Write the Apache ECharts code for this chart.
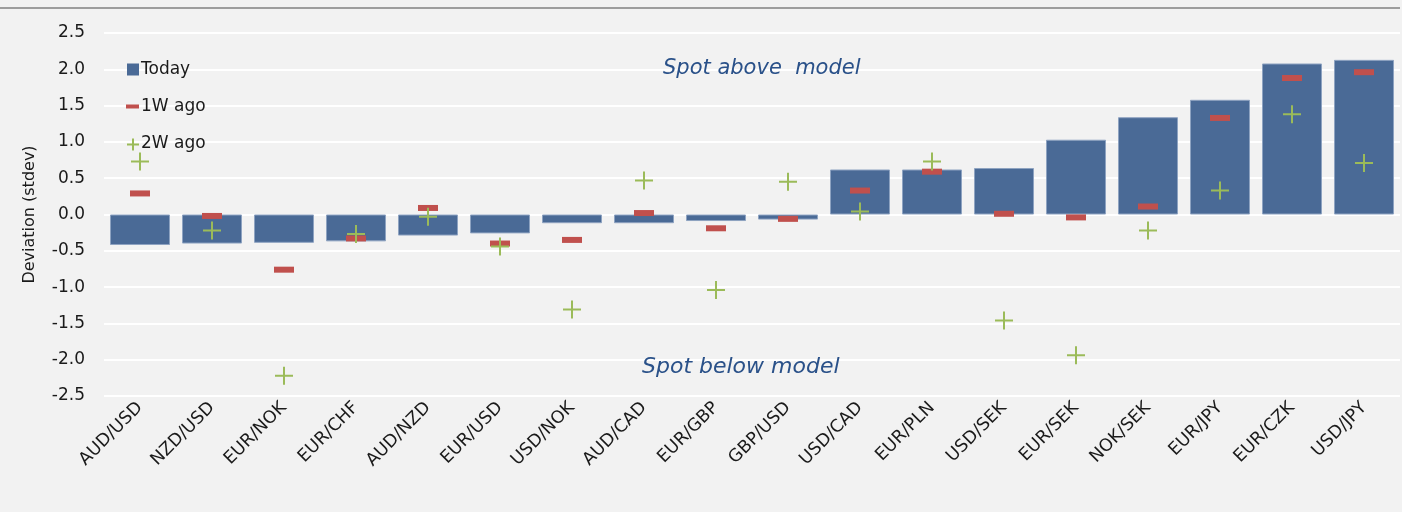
<!DOCTYPE html>
<html>
<head>
<meta charset="utf-8">
<script src="https://cdn.jsdelivr.net/npm/echarts@6/dist/echarts.min.js"></script>
<style>
  html, body { margin: 0; padding: 0; background: #f2f2f2; }
  #chart { width: 1402px; height: 512px; }
</style>
</head>
<body>
<div id="chart"></div>
<script>
// currency pairs, sorted by today's deviation
const pairs = ['AUD/USD', 'NZD/USD', 'EUR/NOK', 'EUR/CHF', 'AUD/NZD', 'EUR/USD', 'USD/NOK', 'AUD/CAD', 'EUR/GBP',
  'GBP/USD', 'USD/CAD', 'EUR/PLN', 'USD/SEK', 'EUR/SEK', 'NOK/SEK', 'EUR/JPY', 'EUR/CZK', 'USD/JPY'];
const today = [-0.42, -0.40, -0.39, -0.37, -0.29, -0.26, -0.12, -0.12, -0.09,
  -0.07, 0.62, 0.62, 0.64, 1.03, 1.34, 1.58, 2.08, 2.13];
const oneWeekAgo = [0.29, -0.02, -0.76, -0.33, 0.09, -0.40, -0.35, 0.02, -0.19,
  -0.06, 0.33, 0.59, 0.01, -0.04, 0.11, 1.33, 1.88, 1.96];
const twoWeeksAgo = [0.73, -0.22, -2.22, -0.27, -0.03, -0.44, -1.31, 0.47, -1.04,
  0.45, 0.04, 0.73, -1.46, -1.94, -0.22, 0.33, 1.38, 0.71];
const yTicks = { min: -2.5, max: 2.5, interval: 0.5 };

const FONT = 'DejaVu Sans';
const plus = 'path://M8,0h2v8h8v2h-8v8h-2v-8h-8v-2h8z';

const chart = echarts.init(document.getElementById('chart'));
chart.setOption({
  backgroundColor: '#f2f2f2',
  animation: false,
  textStyle: { fontFamily: FONT },
  grid: { left: 104, right: 2, top: 33, bottom: 116 },
  legend: {
    orient: 'vertical',
    left: 121,
    top: 56,
    itemGap: 20,
    itemWidth: 14,
    itemHeight: 14,
    textStyle: { fontFamily: FONT, fontSize: 17, color: '#1a1a1a', padding: [0, 0, 0, -4] },
    data: [
      { name: 'Today', icon: 'path://M0,0M1,1h12v12h-12zM14,14', itemStyle: { borderWidth: 0 } },
      { name: '1W ago', icon: 'path://M0,0M0,5h13v4h-13zM14,14' },
      { name: '2W ago', icon: 'path://M0,0M6,2h2v5h5v2h-5v5h-2v-5h-5v-2h5zM14,14' }
    ]
  },
  xAxis: {
    type: 'category',
    data: pairs,
    axisLine: { show: false, onZero: false },
    axisTick: { show: false },
    axisLabel: { rotate: 45, fontSize: 17.5, color: '#1a1a1a', margin: 9, interval: 0 }
  },
  yAxis: {
    type: 'value',
    min: yTicks.min,
    max: yTicks.max,
    interval: yTicks.interval,
    name: 'Deviation (stdev)',
    nameLocation: 'middle',
    nameGap: 66,
    nameTextStyle: { fontSize: 16, color: '#1a1a1a' },
    axisLabel: {
      fontSize: 17, color: '#1a1a1a', margin: 19,
      formatter: v => v.toFixed(1)
    },
    splitLine: { lineStyle: { color: '#ffffff', width: 2 } }
  },
  series: [
    {
      name: 'Today',
      type: 'bar',
      data: today,
      barWidth: 60,
      itemStyle: { color: '#4a6a96', borderColor: '#8ea3c1', borderWidth: 1 }
    },
    {
      name: '1W ago',
      type: 'scatter',
      data: oneWeekAgo,
      symbol: 'rect',
      symbolSize: [20, 6],
      itemStyle: { color: '#c0504d', opacity: 1 },
      z: 3
    },
    {
      name: '2W ago',
      type: 'scatter',
      data: twoWeeksAgo,
      symbol: plus,
      symbolSize: 18,
      itemStyle: { color: '#9bbb59', opacity: 1 },
      z: 4
    }
  ],
  graphic: [
    {
      type: 'line',
      shape: { x1: 0, y1: 8, x2: 1400, y2: 8 },
      style: { stroke: '#808080', lineWidth: 1.5 }
    },
    {
      type: 'text',
      left: 663,
      top: 58,
      z: 100,
      style: { text: 'Spot above  model', fill: '#2a5189', font: 'italic 21px "DejaVu Sans"' }
    },
    {
      type: 'text',
      left: 642,
      top: 356,
      z: 100,
      style: { text: 'Spot below model', fill: '#2a5189', font: 'italic 22px "DejaVu Sans"' }
    }
  ]
});
</script>
</body>
</html>
